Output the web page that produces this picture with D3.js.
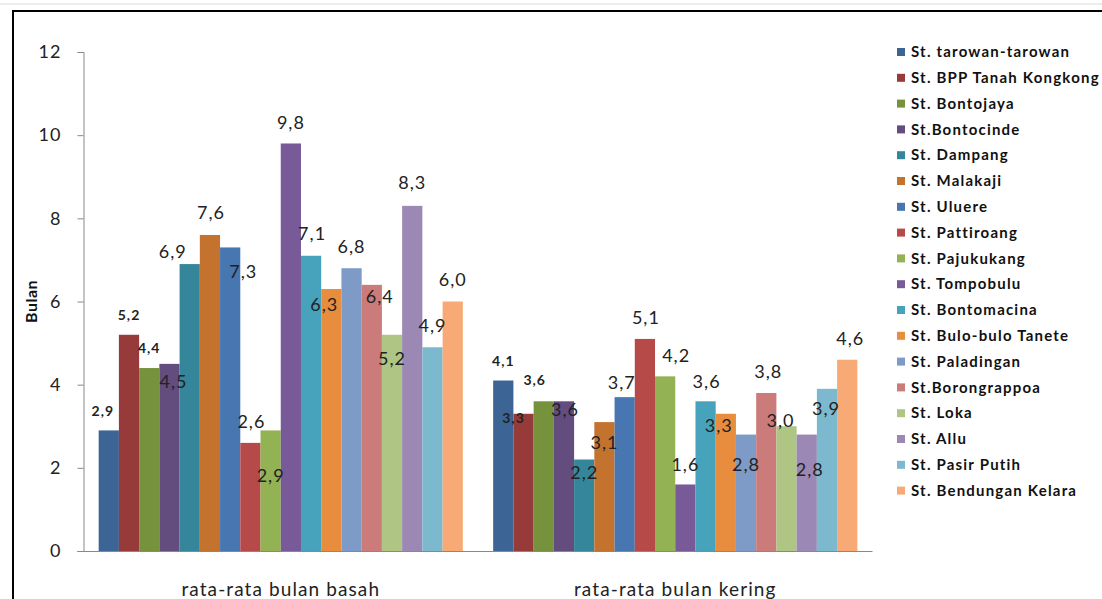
<!DOCTYPE html>
<html><head><meta charset="utf-8">
<script src="https://cdn.jsdelivr.net/npm/d3@7"></script>
<style>
html,body{margin:0;padding:0;background:#fff;}
svg{display:block;font-family:Lato,"Open Sans",sans-serif;}
</style></head>
<body>
<svg id="c" width="1102" height="599"></svg>
<script>
const categories = ["rata-rata bulan basah", "rata-rata bulan kering"];
const stations = ["St. tarowan-tarowan","St. BPP Tanah Kongkong","St. Bontojaya","St.Bontocinde","St. Dampang","St. Malakaji","St. Uluere","St. Pattiroang","St. Pajukukang","St. Tompobulu","St. Bontomacina","St. Bulo-bulo Tanete","St. Paladingan","St.Borongrappoa","St. Loka","St. Allu","St. Pasir Putih","St. Bendungan Kelara"];
const basah  = [2.9,5.2,4.4,4.5,6.9,7.6,7.3,2.6,2.9,9.8,7.1,6.3,6.8,6.4,5.2,8.3,4.9,6.0];
const kering = [4.1,3.3,3.6,3.6,2.2,3.1,3.7,5.1,4.2,1.6,3.6,3.3,2.8,3.8,3.0,2.8,3.9,4.6];
const yTicks = [0,2,4,6,8,10,12];
const yTitle = "Bulan";
const colors = ["#3C6494","#963B3A","#77923D","#634C7E","#35869B","#C4732F","#4776B0","#B64A48","#93B253","#775A97","#47A2BB","#E88C3E","#7E9AC7","#CB7B7A","#AEC584","#9C88B4","#7CB9CF","#F7AA76"];
// label nudges [dx, dy] (px) relative to bar top centre, replicating manual placement
const nudgeBasah  = [[-6,-19],[0,-20],[0,-20],[4,18],[-17,-12],[1,-22],[13,24],[1,-21],[0,45],[0,-21],[1,-22],[-7,16],[0,-22],[8,12],[0,24],[0,-23],[0,-22],[0,-22]];
const nudgeKering = [[0,-19],[-10,4],[-9,-21],[1,8],[0,13],[0,21],[-3,-14],[1,-21],[11,-21],[0,-20],[1,-20],[-7,12],[0,30],[2,-21],[-6,-6],[3,35],[-1,20],[3,-21]];
const smallLabels = [0,1,2];

const svg = d3.select("#c");
// outer frame
svg.append("line").attr("x1",0).attr("x2",1102).attr("y1",4).attr("y2",4).attr("stroke","#d9d9d9").attr("stroke-width",1);
svg.append("rect").attr("x",13).attr("y",11).attr("width",1200).attr("height",700)
  .attr("fill","none").attr("stroke","#000").attr("stroke-width",2);

const pLeft = 83.5, pRight = 872.5, pTop = 52, pBottom = 551;
const x0 = d3.scaleBand().domain(categories).range([pLeft,pRight]).paddingInner(0).paddingOuter(0);
const y = d3.scaleLinear().domain([0,12]).range([pBottom,pTop]);
const groupW = x0.bandwidth() * 18/(18+1.5);
const x1 = d3.scaleBand().domain(d3.range(18)).range([0,groupW]);

const fmt = v => d3.format(".1f")(v).replace(".",",");

// y axis
const yAxis = d3.axisLeft(y).tickValues(yTicks).tickSize(6).tickPadding(16).tickFormat(d3.format("d"));
const ga = svg.append("g").attr("transform",`translate(${pLeft},0)`).call(yAxis);
ga.select(".domain").attr("stroke","#888");
ga.selectAll(".tick line").attr("stroke","#888");
ga.selectAll(".tick text").attr("fill","#222").style("font-size","18px").style("letter-spacing","1px").style("font-family","Lato,sans-serif");

// baseline
svg.append("line").attr("x1",pLeft-6).attr("x2",pRight).attr("y1",pBottom+0.5).attr("y2",pBottom+0.5).attr("stroke","#888");

// y title
svg.append("text").attr("transform",`translate(37,${(pTop+pBottom)/2}) rotate(-90)`)
  .attr("text-anchor","middle").style("font-size","16px").style("font-weight","bold").style("letter-spacing","0.5px").attr("fill","#111").text(yTitle);

const series = [basah, kering];
const nudges = [nudgeBasah, nudgeKering];
categories.forEach((cat,ci)=>{
  const gx = x0(cat) + (x0.bandwidth()-groupW)/2;
  const g = svg.append("g").attr("transform",`translate(${gx},0)`);
  g.selectAll("rect").data(series[ci]).join("rect")
    .attr("x",(d,i)=>x1(i)).attr("width",x1.bandwidth())
    .attr("y",d=>y(d)).attr("height",d=>y(0)-y(d))
    .attr("fill",(d,i)=>colors[i]);
  g.selectAll("text").data(series[ci]).join("text")
    .attr("x",(d,i)=>x1(i)+x1.bandwidth()/2+nudges[ci][i][0])
    .attr("y",(d,i)=>y(d)+nudges[ci][i][1])
    .attr("dy","0.35em").attr("text-anchor","middle")
    .attr("fill","#222")
    .style("font-size",(d,i)=>smallLabels.includes(i)?"14px":"18px")
    .style("letter-spacing","1px")
    .style("font-weight",(d,i)=>smallLabels.includes(i)?"bold":"normal")
    .text(d=>fmt(d));
  svg.append("text").attr("x",x0(cat)+x0.bandwidth()/2).attr("y",589).attr("dy","0.35em")
    .attr("text-anchor","middle").attr("fill","#222").style("font-size","19px").style("letter-spacing","1.1px").text(cat);
});

// legend
const lg = svg.append("g");
stations.forEach((s,i)=>{
  const yy = 52 + i*25.8;
  lg.append("rect").attr("x",897).attr("y",yy-4).attr("width",8).attr("height",8).attr("fill",colors[i]);
  lg.append("text").attr("x",911).attr("y",yy).attr("dy","0.35em").attr("fill","#111")
    .style("font-size","15px").style("letter-spacing","1.2px").style("font-weight","bold").text(s);
});
</script>
</body></html>
